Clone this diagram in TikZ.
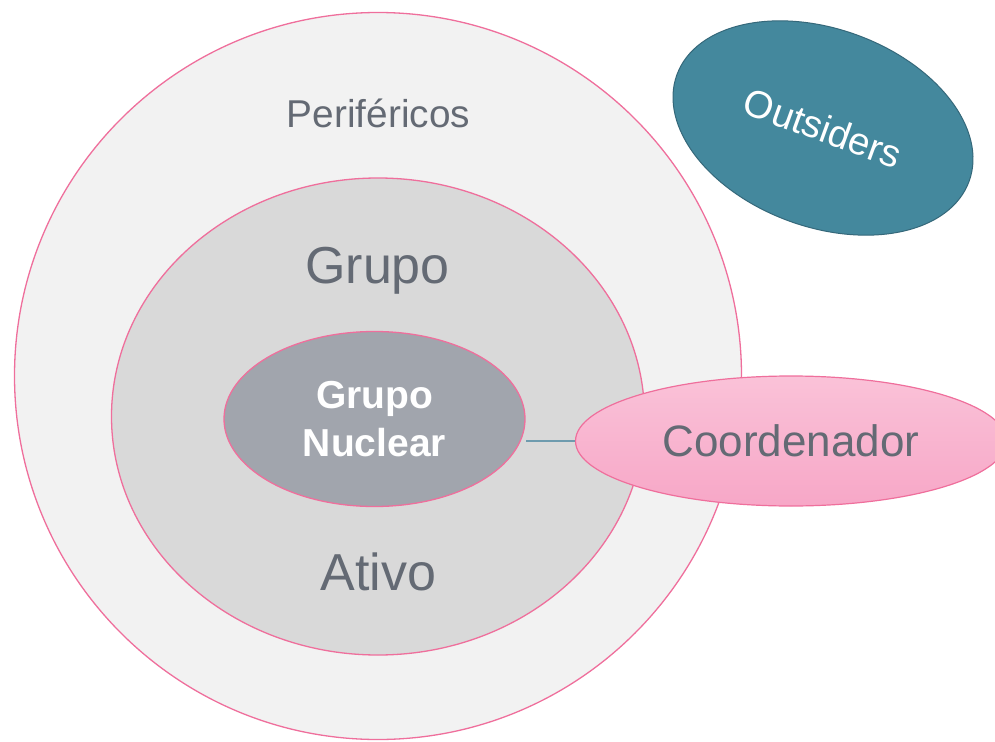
\documentclass[tikz,border=0pt]{standalone}
\usepackage{fontspec}
\setmainfont{Liberation Sans}
\usetikzlibrary{shapes.geometric}

\definecolor{rosa}{HTML}{EF6F9C}
\definecolor{periferia}{HTML}{F2F2F2}
\definecolor{ativo}{HTML}{D9D9D9}
\definecolor{nucleo}{HTML}{A1A5AD}
\definecolor{fora}{HTML}{44889D}
\definecolor{foraborda}{HTML}{35687A}
\definecolor{texto}{HTML}{646A74}
\definecolor{rosaclaro}{HTML}{FAC2D8}
\definecolor{rosaescuro}{HTML}{F7A7C7}
\definecolor{ligacao}{HTML}{6E9BAE}

\begin{document}
\begin{tikzpicture}[x=1pt,y=-1pt,
    camada/.style={draw=rosa, line width=1.3pt, inner sep=0pt},
    rotulo/.style={text=texto, anchor=base}]
  \useasboundingbox (0,0) rectangle (995,741);
  \clip (0,0) rectangle (995,741);
  \node[camada, circle, fill=periferia, minimum size=727pt] (perifericos) at (378,376) {};
  \node[camada, ellipse, fill=ativo, minimum width=533pt, minimum height=477pt] (grupo) at (378,416.5) {};
  \node[camada, ellipse, fill=nucleo, minimum width=301pt, minimum height=175pt,
    text=white, align=center, font=\bfseries\fontsize{39}{48}\selectfont] (nuclear) at (374.5,419) {Grupo\\Nuclear};
  \node[rotulo, font=\fontsize{38.8}{46}\selectfont] (lperifericos) at (378.5,128) {Periféricos};
  \node[rotulo, font=\fontsize{52}{60}\selectfont] (lgrupo) at (377.5,283) {Grupo};
  \node[rotulo, font=\fontsize{52}{60}\selectfont] (lativo) at (378.5,590) {Ativo};
  \node[ellipse, draw=foraborda, fill=fora, line width=1pt, rotate=-20, inner sep=0pt,
    minimum width=311pt, minimum height=198pt,
    text=white, font=\fontsize{38.5}{46}\selectfont] (outsiders) at (823,128) {Outsiders};
  \node[ellipse, draw=rosa, line width=1.2pt, top color=rosaclaro, bottom color=rosaescuro,
    inner sep=0pt, minimum width=431pt, minimum height=130pt,
    text=texto, font=\fontsize{44}{52}\selectfont] (coordenador) at (791,441) {Coordenador};
  \draw[ligacao, line width=1.3pt] (coordenador.west) -- (nuclear.east |- coordenador.west);
\end{tikzpicture}
\end{document}
